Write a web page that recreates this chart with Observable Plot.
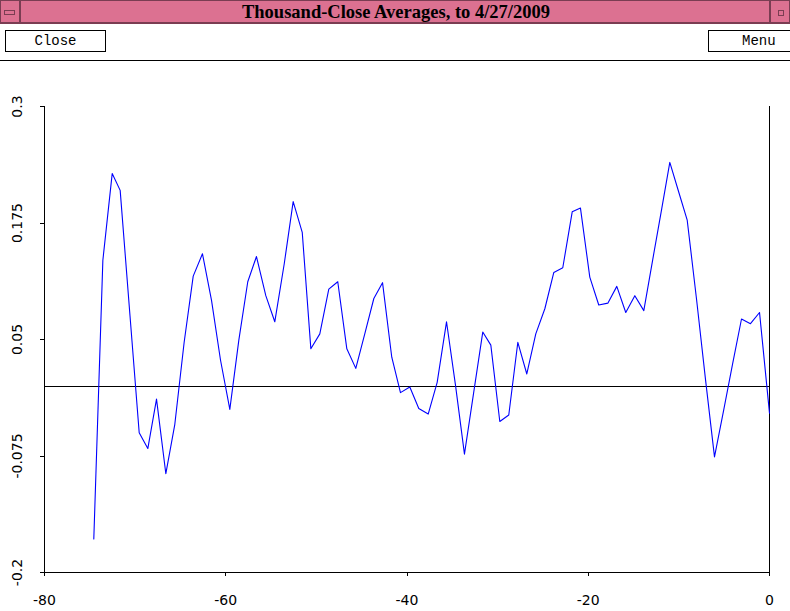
<!DOCTYPE html>
<html>
<head>
<meta charset="utf-8">
<script src="https://cdn.jsdelivr.net/npm/d3@7"></script>
<script src="https://cdn.jsdelivr.net/npm/@observablehq/plot@0.6"></script>
<style>
  html, body { margin: 0; padding: 0; background: #fff; }
  #win { position: relative; width: 790px; height: 611px; overflow: hidden; background: #fff; }
  #titlebar { position: absolute; left: 0; top: 0; width: 790px; height: 24px; background: #dc7191;
              border: 1px solid #7a3d52; border-bottom-width: 2px; box-sizing: border-box; }
  #title { position: absolute; left: 0; top: 0; width: 790px; height: 22px; line-height: 22px; text-align: center;
           font-family: "Liberation Serif", serif; font-weight: bold; font-size: 18.5px; color: #000; }
  .tbox { position: absolute; top: 0; width: 20px; height: 22px; box-sizing: border-box; }
  #tbl { left: 0; border-right: 2px solid #7a3d52; }
  #tbr { left: 768px; border-left: 2px solid #7a3d52; }
  #tbl .ic { position: absolute; left: 3px; top: 9px; width: 11px; height: 5px; border: 1px solid #7a3d52; box-sizing: border-box; }
  #tbr .ic { position: absolute; left: 7px; top: 9px; width: 6px; height: 6px; border: 1px solid #7a3d52; box-sizing: border-box; }
  .btn { position: absolute; top: 30px; height: 22px; border: 1px solid #000; box-sizing: border-box; background: #fff;
         font-family: "Liberation Mono", monospace; font-size: 14px; line-height: 20px; color: #000; }
  #close { left: 5px; width: 101px; text-align: center; }
  #menu { left: 708px; width: 82px; border-right: none; }
  #menu span { position: absolute; left: 33px; top: 0; }
  #sep { position: absolute; left: 0; top: 60px; width: 790px; height: 1px; background: #000; }
  #plot { position: absolute; left: 0; top: 62px; }
</style>
</head>
<body>
<div id="win">
  <div id="titlebar">
    <div class="tbox" id="tbl"><div class="ic"></div></div>
    <div id="title">Thousand-Close Averages, to 4/27/2009</div>
    <div class="tbox" id="tbr"><div class="ic"></div></div>
  </div>
  <div class="btn" id="close">Close</div>
  <div class="btn" id="menu"><span>Menu</span></div>
  <div id="sep"></div>
  <div id="plot"></div>
</div>
<script>
// Day offsets (x) and thousand-close average values (y)
const xs = [-74.56,-73.56,-72.53,-71.65,-70.57,-69.55,-68.60,-67.64,-66.61,-65.62,
            -64.59,-63.59,-62.57,-61.57,-60.58,-59.55,-58.56,-57.57,-56.61,-55.58,
            -54.59,-53.55,-52.56,-51.56,-50.61,-49.62,-48.63,-47.64,-46.64,-45.65,
            -44.66,-43.66,-42.70,-41.68,-40.72,-39.69,-38.70,-37.66,-36.67,-35.64,
            -34.65,-33.66,-32.66,-31.64,-30.75,-29.76,-28.77,-27.77,-26.78,-25.79,
            -24.79,-23.80,-22.81,-21.77,-20.86,-19.83,-18.84,-17.84,-16.85,-15.86,
            -14.86,-13.87,-12.88,-11.88,-11.00,-10.01,-9.08,-8.06,-7.06,-6.07,
            -5.04,-4.05,-3.09,-2.10,-1.10,0];
const ys = [-0.164,0.135,0.228,0.210,0.076,-0.050,-0.067,-0.014,-0.094,-0.041,
            0.047,0.118,0.142,0.092,0.028,-0.025,0.049,0.112,0.139,0.097,
            0.069,0.131,0.198,0.165,0.040,0.056,0.104,0.112,0.040,0.019,
            0.056,0.094,0.111,0.031,-0.007,-0.001,-0.024,-0.030,0.004,0.069,
            0.001,-0.073,-0.008,0.058,0.044,-0.038,-0.031,0.047,0.013,0.056,
            0.083,0.122,0.127,0.187,0.191,0.117,0.087,0.089,0.107,0.079,
            0.097,0.081,0.136,0.191,0.240,0.208,0.178,0.094,0.007,-0.076,
            -0.025,0.025,0.072,0.067,0.079,-0.029];
const xTicks = [-80, -60, -40, -20, 0];
const xTickLabels = ["-80", "-60", "-40", "-20", "0"];
const yTicks = [-0.2, -0.075, 0.05, 0.175, 0.3];
const yTickLabels = ["-0.2", "-0.075", "0.05", "0.175", "0.3"];
const xDomain = [-80, 0];
const yDomain = [-0.2, 0.3];

const data = xs.map((x, i) => ({x, y: ys[i]}));

const crisp = {stroke: "#000", strokeWidth: 1, shapeRendering: "crispEdges"};

const chart = Plot.plot({
  width: 790,
  height: 549,
  marginLeft: 44,
  marginRight: 21,
  marginTop: 44,
  marginBottom: 39,
  style: {fontFamily: "DejaVu Sans", fontSize: "14px", background: "#fff", color: "#000"},
  x: {domain: xDomain, label: null},
  y: {domain: yDomain, label: null},
  marks: [
    Plot.ruleY([0], crisp),
    Plot.ruleX([xDomain[0]], crisp),
    Plot.ruleX([xDomain[1]], crisp),
    Plot.ruleY([yDomain[0]], crisp),
    Plot.axisX({ticks: xTicks, tickFormat: d => xTickLabels[xTicks.indexOf(d)], tickSize: 4, tickPadding: 19,
                label: null, stroke: "#000", shapeRendering: "crispEdges"}),
    Plot.axisY({ticks: yTicks, tickFormat: d => yTickLabels[yTicks.indexOf(d)], tickSize: 4, tickPadding: 23,
                tickRotate: -90, textAnchor: "middle", lineAnchor: "middle", label: null, stroke: "#000",
                shapeRendering: "crispEdges"}),
    Plot.line(data, {x: "x", y: "y", stroke: "#0000ff", strokeWidth: 1.1})
  ]
});
document.getElementById("plot").appendChild(chart);
</script>
</body>
</html>
